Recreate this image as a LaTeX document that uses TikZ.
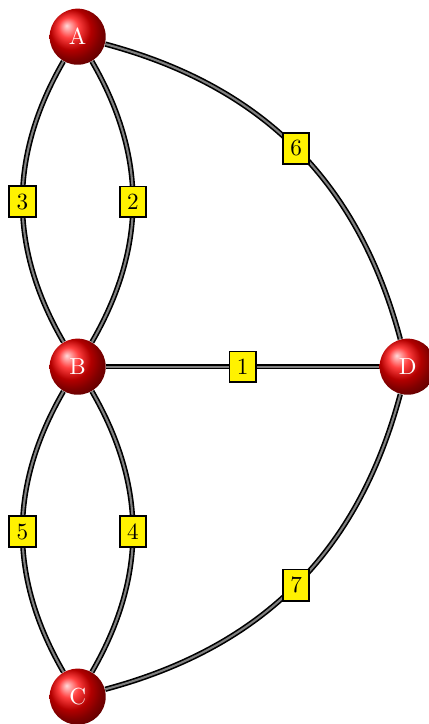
\documentclass[tikz,border=0pt]{standalone}
\usepackage{xcolor}
\usepackage{tikz}

\begin{document}
\begin{tikzpicture}[
      island/.style={circle, shading=ball, ball color=red, text=white,
                     minimum size=0.85cm, inner sep=0pt},
      bridge/.style={draw=black, line width=0.7pt, double=gray,
                     double distance=0.9pt},
      num/.style={draw, fill=yellow, line width=0.8pt, inner sep=3.2pt}
    ]
    \useasboundingbox (-1.177,-5.414) rectangle (5.323,5.556);

    \node[island] (A) at (0,5)  {A};
    \node[island] (B) at (0,0)  {B};
    \node[island] (C) at (0,-5) {C};
    \node[island] (D) at (5,0)  {D};

    \draw[bridge] (B) -- node[num] {1} (D);
    \draw[bridge] (A) to[bend left=30]  node[num] {2} (B);
    \draw[bridge] (A) to[bend right=30] node[num] {3} (B);
    \draw[bridge] (B) to[bend left=30]  node[num] {4} (C);
    \draw[bridge] (B) to[bend right=30] node[num] {5} (C);
    \draw[bridge] (A) to[bend left=30]  node[num] {6} (D);
    \draw[bridge] (C) to[bend right=30] node[num] {7} (D);
  \end{tikzpicture}
\end{document}
